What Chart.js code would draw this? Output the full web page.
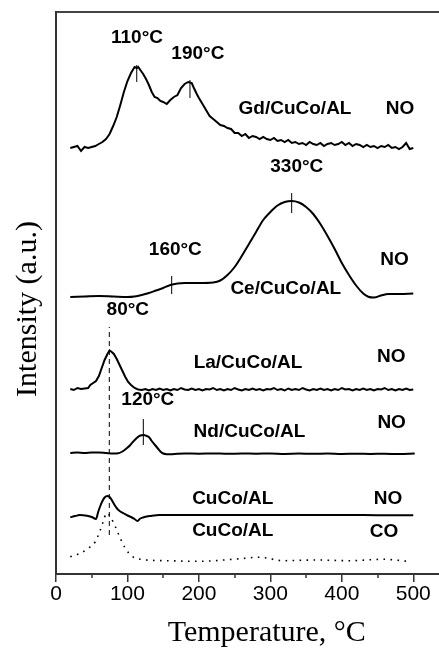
<!DOCTYPE html>
<html>
<head>
<meta charset="utf-8">
<script src="https://cdn.jsdelivr.net/npm/chart.js@4.4.0/dist/chart.umd.min.js"></script>
<style>
  html, body { margin: 0; padding: 0; background: #fff; }
  #wrap { width: 439px; height: 648px; position: relative; }
</style>
</head>
<body>
<div id="wrap"><canvas id="tpdChart"></canvas></div>
<script>
// TPD traces, temperature (C) vs intensity (a.u., stacked offsets)
const tGd = [20,25,30,35,40,45,50,55,60,65,70,75,80,85,90,95,100,105,110,113,115,118,122,126,130,134,138,142,146,150,155,160,165,170,175,180,185,190,193,197,200,205,210,215,220,225,230,235,240,245,250,255,260,265,270,275,280,285,290,295,300,305,310,315,320,325,330,335,340,345,350,355,360,365,370,375,380,385,390,395,400,405,410,415,420,425,430,435,440,445,450,455,460,465,470,475,480,485,490,495,500];
const iGd = [426,427,428,423,427,426,427,428,430,432,435,440,448,457,469,482,493,501,507,506,507,504,500,495,489,482,477,476,473,472,470,474,477,479,486,490,492,491,486,480,476,470,464,458,455,452,449,448,446,445,441,441,438,440,436,438,437,435,437,435,434,436,433,434,432,434,431,432,430,431,429,432,430,429,431,428,430,431,429,430,432,429,431,428,430,429,427,429,427,428,426,428,427,429,426,427,425,427,431,425,426];

const tCe = [20,40,60,80,100,110,120,130,140,150,160,170,180,200,220,230,240,250,260,270,280,290,300,310,320,330,340,350,360,370,380,390,400,410,420,430,437,445,455,465,480,500];
const iCe = [277,277.5,278,277.5,277,277.5,279,281,283.5,286,289,290.5,291,291,291.5,293.5,299,307,318,330,342,354,362,368.5,372,373,371.5,367,360,350,338,325,311,299,288.5,280.5,277.3,276.5,278.5,280,280,280.5];

const tLa = [20,25,30,35,40,45,48,52,56,60,64,68,72,75,78,81,85,89,93,97,101,105,110,115,120,125,130,135,140,145,150,155,160,165,170,175,180,185,190,195,200,205,210,215,220,225,230,235,240,245,250,255,260,265,270,275,280,285,290,295,300,305,310,315,320,325,330,335,340,345,350,355,360,365,370,375,380,385,390,395,400,405,410,415,420,425,430,435,440,445,450,455,460,465,470,475,480,485,490,495,500];
const iLa = [185,184,186,185,185.5,186,189,191,193,198,206,214,220,223.5,222,220,215,209,203,197,192,189,186,184.5,184,185,183.5,185,184,185.5,184,185,183.5,185,184,186,184.5,184,185.5,184,185,183.5,185,184.5,186,184,185,183.5,185,184,186,184.5,183.5,185,184,185.5,184,185,183.5,185,184.5,186,184,185,183.5,185.5,184,185,184,186,184.5,183.5,185,184,185.5,184,185,183.5,185,184,186,184.5,185,183.5,185,184,185.5,184,185,183.5,185,184.5,186,184,185,183.5,185,184,185.5,184,184.5];

const tNd = [20,30,40,50,60,70,80,87,93,99,104,108,113,118,123,127,130,134,138,142,146,150,155,160,170,180,200,220,240,260,280,300,320,340,360,380,400,420,440,460,480,502];
const iNd = [121,121.5,121,121.5,121.5,121,120.5,120.7,122.5,125.7,129,132.3,136,138.5,139,138,137,133,129.5,126,122.5,120.5,119.8,119.7,120.3,120.5,120.3,120.6,120.2,120.5,120.3,120.5,120.1,120.4,120.2,120.4,120,120.3,120.1,120.2,119.9,120.5];

const tCuNO = [20,27,33,40,45,50,56,59,62,65,68,72,75,78,82,86,90,95,100,105,110,114,118,124,132,145,160,200,250,300,400,450,500];
const iCuNO = [56.7,58,59,58.5,58,57,55,62,68,73,76.5,78,77,74,69,65,62.5,60.5,58.5,57,55,53,55.5,57,58,59,59,59,59,59,59,58.8,58.7];

const tCuCO = [20,34,45,55,62,66,71,76,83,90,97,106,118,155,200,248,285,318,365,411,458,493];
const iCuCO = [17.3,20.7,25.7,32.3,44,52.3,61,57.3,47.3,35.7,25.7,18,14.7,13.3,12.7,14.7,16.7,13.3,14,13.3,14.7,12.7];

// peak markers: temperature and the intensity span of the short tick
const peakT = [113, 187.5, 329.8, 161.9, 122.2];
const peakLo = [492, 476, 361, 280, 129];
const peakHi = [509, 494, 381, 298, 155];
const refT = [74.6, 74.6];
const refI = [39, 247];

const xTickValues = [0, 100, 200, 300, 400, 500];
const xMinorValues = [50, 150, 250, 350, 450];

const labelText = ['110°C','190°C','Gd/CuCo/AL','NO','330°C','160°C','Ce/CuCo/AL','NO','80°C','La/CuCo/AL','NO','120°C','Nd/CuCo/AL','NO','CuCo/AL','NO','CuCo/AL','CO'];
const labelT = [113.3,198.5,334.5,481.4,337,167,321.6,473.7,100.5,268.7,469.3,128.5,270.8,469.7,247.4,464.6,247.4,459];
const labelI = [536,520,465,465,407.3,324,285,314,264,211,217.3,174.7,142.3,151.3,75.7,75.7,43,42.3];

function toPoints(ts, vs) {
    return ts.map((t, i) => ({ x: t, y: vs[i] }));
}

function trace(ts, vs, smooth) {
    return {
        data: toPoints(ts, vs),
        borderColor: '#000',
        borderWidth: 2,
        pointRadius: 0,
        fill: false,
        cubicInterpolationMode: smooth ? 'monotone' : 'default',
        tension: smooth ? 0.4 : 0
    };
}

const datasets = [
    trace(tGd, iGd, false),
    trace(tCe, iCe, true),
    trace(tLa, iLa, false),
    trace(tNd, iNd, true),
    trace(tCuNO, iCuNO, true),
    Object.assign(trace(tCuCO, iCuCO, true), { borderWidth: 1.6, borderDash: [1.6, 5.4] }),
    { data: toPoints(refT, refI), borderColor: '#000', borderWidth: 1, borderDash: [5, 4], pointRadius: 0 }
];
peakT.forEach((t, i) => {
    datasets.push({ data: toPoints([t, t], [peakLo[i], peakHi[i]]), borderColor: '#000', borderWidth: 1, pointRadius: 0 });
});

// labels, minor ticks and axis titles
const textPlugin = {
    id: 'textPlugin',
    afterDraw(chart) {
        const { ctx, scales: { x, y } } = chart;
        ctx.save();
        ctx.strokeStyle = '#333';
        ctx.lineWidth = 1.5;
        xMinorValues.forEach(v => {
            const px = Math.round(x.getPixelForValue(v));
            ctx.beginPath();
            ctx.moveTo(px, y.bottom);
            ctx.lineTo(px, y.bottom + 4);
            ctx.stroke();
        });

        ctx.fillStyle = '#000';
        ctx.font = 'bold 19px "Liberation Sans", Arial, sans-serif';
        ctx.textAlign = 'center';
        ctx.textBaseline = 'middle';
        labelText.forEach((txt, i) => {
            ctx.fillText(txt, x.getPixelForValue(labelT[i]), y.getPixelForValue(labelI[i]));
        });

        ctx.font = '30px "Liberation Serif", "Times New Roman", serif';
        ctx.fillText('Temperature, °C', x.getPixelForValue(295), 633);

        ctx.translate(chart.chartArea.left - 28, y.getPixelForValue(265));
        ctx.rotate(-Math.PI / 2);
        ctx.fillText('Intensity (a.u.)', 0, 0);
        ctx.restore();
    }
};

const tpdChart = new Chart(document.getElementById('tpdChart'), {
    type: 'line',
    data: { datasets: datasets },
    options: {
        responsive: true,
        maintainAspectRatio: false,
        animation: false,
        layout: { padding: { top: 12, left: 0, right: 0, bottom: 0 } },
        plugins: { legend: { display: false }, tooltip: { enabled: false } },
        scales: {
            x: {
                type: 'linear',
                min: 0,
                max: 536,
                afterBuildTicks: s => { s.ticks = xTickValues.map(v => ({ value: v })); },
                afterFit: s => { s.height = 74; },
                ticks: {
                    color: '#000',
                    padding: 0,
                    font: { family: '"Liberation Sans", Arial, sans-serif', size: 21 },
                    maxRotation: 0
                },
                grid: { drawOnChartArea: false, drawTicks: true, tickLength: 8, color: '#333', lineWidth: 1.5 },
                border: { display: true, color: '#333', width: 2 }
            },
            x2: {
                type: 'linear',
                position: 'top',
                min: 0,
                max: 536,
                afterFit: s => { s.height = 0; },
                ticks: { display: false },
                grid: { display: false, drawTicks: false },
                border: { display: true, color: '#444', width: 2 }
            },
            y: {
                type: 'linear',
                min: 0,
                max: 562,
                afterFit: s => { s.width = 56; },
                ticks: { display: false },
                grid: { display: false, drawTicks: false },
                border: { display: true, color: '#333', width: 2 }
            }
        }
    },
    plugins: [textPlugin]
});
</script>
</body>
</html>
